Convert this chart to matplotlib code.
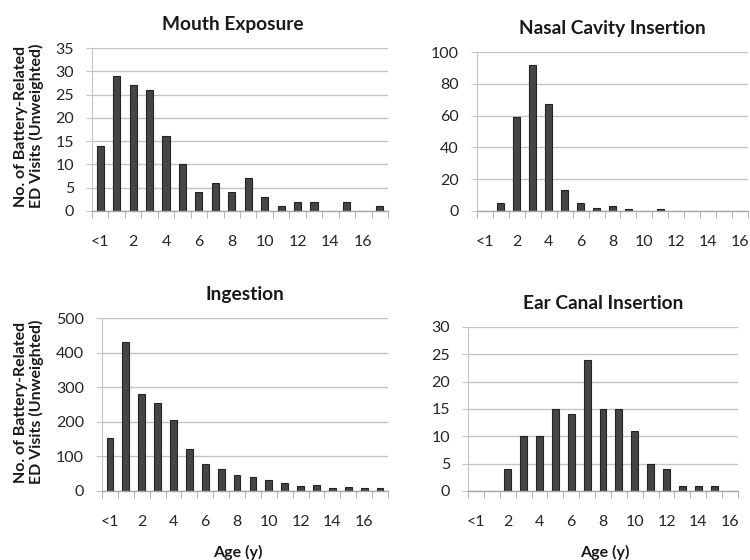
import matplotlib
matplotlib.use("Agg")
import matplotlib.pyplot as plt
import numpy as np

plt.rcParams['font.family'] = ['Lato', 'DejaVu Sans']

ages = ['<1'] + [str(a) for a in range(1, 18)]

mouth = [14, 29, 27, 26, 16, 10, 4, 6, 4, 7, 3, 1, 2, 2, 0, 2, 0, 1]
nasal = [0, 5, 59, 92, 67, 13, 5, 2, 3, 1, 0, 1, 0, 0, 0, 0, 0]
ingestion = [152, 432, 280, 255, 205, 120, 78, 65, 46, 41, 31, 23, 15, 18, 8, 13, 8, 8]
ear = [0, 0, 4, 10, 10, 15, 14, 24, 15, 15, 11, 5, 4, 1, 1, 1, 0]

W, H = 750, 560
fig = plt.figure(figsize=(W / 100, H / 100), dpi=100)

GRID = '#c4c4c4'
AXIS = '#a8a8a8'


def px_axes(x0, x1, ytop, ybot):
    return fig.add_axes([x0 / W, 1 - ybot / H, (x1 - x0) / W, (ybot - ytop) / H])


def panel(ax, values, title, ymax, ystep, title_x=0.5):
    n = len(values)
    x = np.arange(n)
    ax.bar(x, values, width=0.43, color='#454545', edgecolor='#232323', linewidth=0.8, zorder=3)
    ax.set_xlim(-0.5, n - 0.5)
    ax.set_ylim(0, ymax)
    ax.set_yticks(np.arange(0, ymax + 1, ystep))
    ax.yaxis.grid(True, color=GRID, linewidth=1.0, zorder=0)
    for s in ['top', 'right']:
        ax.spines[s].set_visible(False)
    ax.spines['left'].set_color(GRID)
    ax.spines['bottom'].set_color(AXIS)
    ax.spines['bottom'].set_linewidth(1.0)
    ax.spines['bottom'].set_zorder(4)
    major = list(range(0, n, 2))
    ax.set_xticks(major)
    ax.set_xticklabels([ages[i] for i in major])
    ax.set_xticks(np.arange(-0.5, n, 1.0), minor=True)
    ax.tick_params(axis='x', which='major', length=0, pad=17, labelsize=11.5, labelcolor='#262626')
    ax.tick_params(axis='x', which='minor', length=5, color=AXIS, direction='out')
    ax.tick_params(axis='y', length=4, color=GRID, pad=9, labelsize=11.5, labelcolor='#262626')
    ax.set_title(title, fontsize=13.8, fontweight='bold', pad=13, color='#1a1a1a', x=title_x)


ylab = 'No. of Battery-Related\nED Visits (Unweighted)'

ax1 = px_axes(92, 388, 48, 211)
panel(ax1, mouth, 'Mouth Exposure', 35, 5, title_x=0.477)
ax2 = px_axes(477, 748, 52, 211)
panel(ax2, nasal, 'Nasal Cavity Insertion', 100, 20)
ax3 = px_axes(102, 388, 318, 491)
panel(ax3, ingestion, 'Ingestion', 500, 100)
ax4 = px_axes(468, 738, 327, 491)
panel(ax4, ear, 'Ear Canal Insertion', 30, 5)

for yc in (126, 402):
    fig.text(29 / W, 1 - yc / H, ylab, rotation=90, ha='center', va='center',
             fontsize=11.5, fontweight='bold', color='#1a1a1a', linespacing=1.1)
fig.text(238 / W, 1 - 552 / H, 'Age (y)', ha='center', va='center',
         fontsize=11.5, fontweight='bold', color='#1a1a1a')
fig.text(605 / W, 1 - 552 / H, 'Age (y)', ha='center', va='center',
         fontsize=11.5, fontweight='bold', color='#1a1a1a')

fig.savefig('out.png', dpi=100, facecolor='white')
